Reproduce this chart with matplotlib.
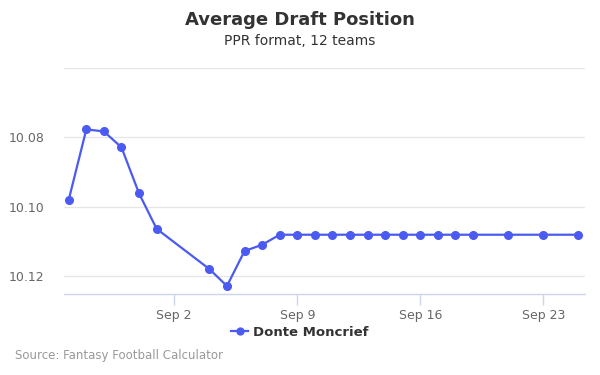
import datetime as dt
import matplotlib
matplotlib.use("Agg")
import matplotlib.pyplot as plt
import matplotlib.dates as mdates

# ADP data
dates = ["2018-08-27", "2018-08-28", "2018-08-29", "2018-08-30", "2018-08-31",
         "2018-09-01", "2018-09-04", "2018-09-05", "2018-09-06", "2018-09-07",
         "2018-09-08", "2018-09-09", "2018-09-10", "2018-09-11", "2018-09-12",
         "2018-09-13", "2018-09-14", "2018-09-15", "2018-09-16", "2018-09-17",
         "2018-09-18", "2018-09-19", "2018-09-21", "2018-09-23", "2018-09-25"]
adp = [10.098, 10.0777, 10.0783, 10.0829, 10.0962,
       10.1064, 10.118, 10.1229, 10.1128, 10.111,
       10.1081, 10.1081, 10.1081, 10.1081, 10.1081,
       10.1081, 10.1081, 10.1081, 10.1081, 10.1081,
       10.1081, 10.1081, 10.1081, 10.1081, 10.1081]
grid_vals = [10.06, 10.08, 10.10, 10.12]
ytick_vals = [10.08, 10.10, 10.12]
xtick_dates = ["2018-09-02", "2018-09-09", "2018-09-16", "2018-09-23"]
player = "Donte Moncrief"

x = [dt.datetime.strptime(d, "%Y-%m-%d") for d in dates]
xt = [dt.datetime.strptime(d, "%Y-%m-%d") for d in xtick_dates]

color = "#4b5af0"
fig = plt.figure(figsize=(6, 3.75), dpi=100)
ax = fig.add_axes([64/600, 1 - 294/375, (585-64)/600, (294-68)/375])

ax.plot(x, adp, color=color, lw=1.6, marker="o", ms=5.5, label=player, zorder=3)

for g in grid_vals:
    ax.axhline(g, color="#e6e6e6", lw=0.9, zorder=1)

ax.set_ylim(10.1252, 10.06)
x0 = mdates.date2num(xt[0])
ax.set_xlim(x0 - 6.27, x0 + 23.37)

ax.set_yticks(ytick_vals)
ax.set_yticklabels([f"{v:.2f}" for v in ytick_vals])
ax.set_xticks(xt)
ax.xaxis.set_major_formatter(mdates.DateFormatter("%b %-d"))
ax.tick_params(axis="y", length=0, labelsize=9, colors="#666666", pad=14)
ax.tick_params(axis="x", length=8, width=1, color="#ccd6eb", labelsize=9,
               labelcolor="#666666", pad=3)

for s in ["top", "right", "left"]:
    ax.spines[s].set_visible(False)
ax.spines["bottom"].set_color("#ccd6eb")
ax.spines["bottom"].set_linewidth(1)

fig.text(0.5, 1 - 20/375, "Average Draft Position", ha="center", va="center",
         fontsize=13, fontweight="bold", color="#333333")
fig.text(0.5, 1 - 41/375, "PPR format, 12 teams", ha="center", va="center",
         fontsize=10, color="#333333")

leg = fig.legend(loc="center", bbox_to_anchor=(0.5, 1 - 332/375), frameon=False,
                 prop={"weight": "bold", "size": 9.5}, handlelength=1.3,
                 handletextpad=0.4, markerscale=0.9)
for t in leg.get_texts():
    t.set_color("#333333")

fig.text(15/600, 1 - 356/375, "Source: Fantasy Football Calculator", ha="left",
         va="center", fontsize=8.5, color="#999999")

fig.savefig("out.png", dpi=100)
